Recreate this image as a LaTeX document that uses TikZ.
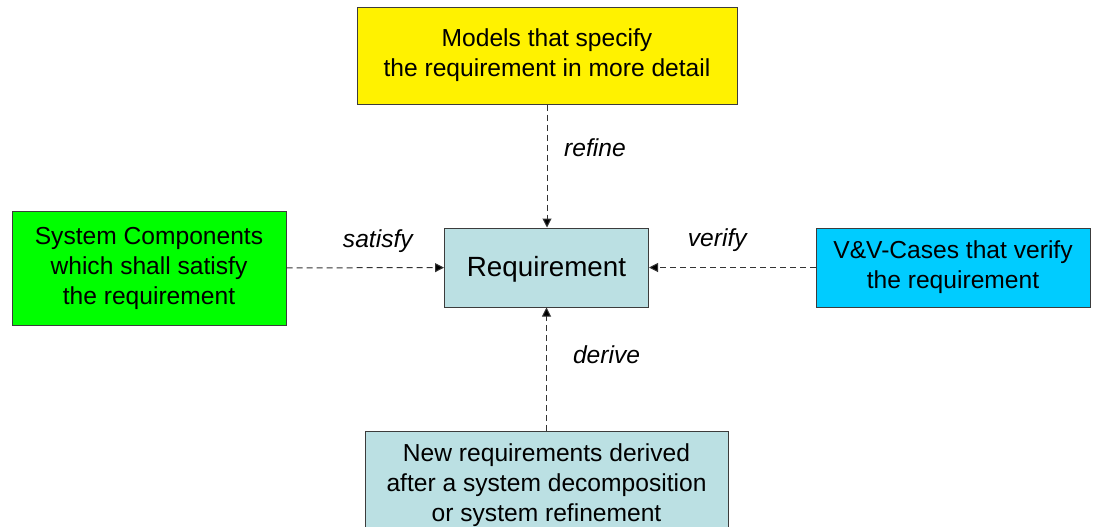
\documentclass[tikz,border=0pt]{standalone}
\usepackage{fontspec}
\setmainfont{Liberation Sans}
\usepackage{tikz}
\usetikzlibrary{positioning, arrows.meta}

\definecolor{reqblue}{RGB}{187,224,227}
\definecolor{vvblue}{RGB}{0,204,255}
\definecolor{boxline}{RGB}{60,60,60}

\begin{document}
\begin{tikzpicture}[
  x=0.5pt, y=-0.5pt,
  every node/.style={font=\fontsize{12.3}{15}\selectfont},
  box/.style={draw=boxline, line width=0.5pt, align=center, inner sep=0pt,
    execute at begin node={\rule{0pt}{11.6pt}}},
  rel/.style={draw=black!80, line width=0.5pt, dash pattern=on 3pt off 2pt,
    -{Triangle[length=4.5pt, width=4.5pt, fill=black]}},
  lbl/.style={font=\fontsize{12.3}{15}\selectfont\itshape, inner sep=0pt}
]
\clip (0,0) rectangle (1097,526);
\fill[white] (0,0) rectangle (1097,526);

% Central requirement
\node[box, fill=reqblue, minimum width=102pt, minimum height=39.5pt,
  font=\fontsize{13.9}{16}\selectfont] (req) at (546.5,267.5) {Requirement};

% Surrounding elements
\node[box, fill=yellow, minimum width=190pt, minimum height=48.5pt] (models) at (547,55.5)
  {Models that specify\\the requirement in more detail};
\node[box, fill=green, minimum width=137pt, minimum height=57pt] (comp) at (149,268)
  {System Components\\which shall satisfy\\the requirement};
\node[box, fill=vvblue, minimum width=137pt, minimum height=39.5pt] (vv) at (953,267.5)
  {V\&V-Cases that verify\\the requirement};
\node[box, fill=reqblue, minimum width=181.5pt, minimum height=54pt] (derived) at (546.5,485)
  {New requirements derived\\after a system decomposition\\or system refinement};

% Relations
\draw[rel] (models) -- node[lbl, pos=.35, xshift=24pt] {refine} (models |- req.north);
\draw[rel] (comp) -- node[lbl, pos=.58, yshift=13.5pt] {satisfy} (req);
\draw[rel] (vv) -- node[lbl, pos=.59, yshift=13.5pt] {verify} (req);
\draw[rel] (derived.north -| req) -- node[lbl, pos=.62, xshift=30pt] {derive} (req);

\end{tikzpicture}
\end{document}
